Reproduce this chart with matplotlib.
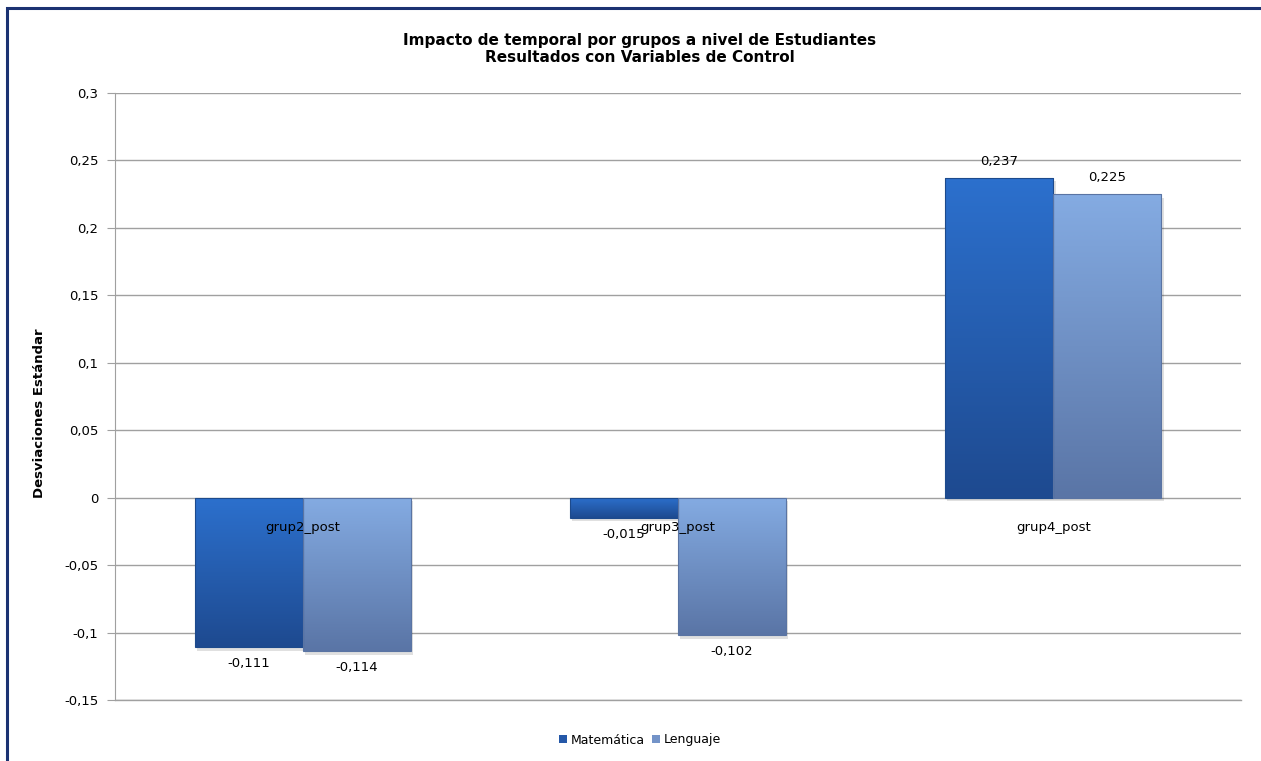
import matplotlib
matplotlib.use("Agg")
import matplotlib.pyplot as plt
import numpy as np
from matplotlib.colors import LinearSegmentedColormap
from matplotlib.patches import Rectangle, Patch
from matplotlib.ticker import FixedLocator, FuncFormatter

categories = ["grup2_post", "grup3_post", "grup4_post"]
matematica = [-0.111, -0.015, 0.237]
lenguaje = [-0.114, -0.102, 0.225]
series_names = ["Matemática", "Lenguaje"]
yticks = [-0.15, -0.1, -0.05, 0, 0.05, 0.1, 0.15, 0.2, 0.25, 0.3]

plt.rcParams['font.family'] = ['DejaVu Sans']

W, H = 1261, 761
fig = plt.figure(figsize=(W / 100, H / 100), dpi=100)
ax = fig.add_axes([115 / W, 1 - 700 / H, 1126 / W, 607 / H])

# frame around the chart
fig.patches.append(Rectangle((7 / W, -0.05), 1.1, 1 - 8 / H + 0.05, transform=fig.transFigure,
                             fill=False, edgecolor="#1b3272", linewidth=2.2, zorder=10))

x = np.arange(len(categories))
bw = 0.288
cols = [("#2c70cd", "#1e4a90"), ("#84abe2", "#5a75a6")]
edge = ["#1d4a8c", "#5a74a3"]
legcols = ["#2558a8", "#7393c8"]

for i, (vals, name) in enumerate(zip([matematica, lenguaje], series_names)):
    offs = (i - 0.5) * bw
    bars = ax.bar(x + offs, vals, bw, color=cols[i][1], edgecolor="none", label=name, zorder=3)
    cmap = LinearSegmentedColormap.from_list("g%d" % i, [cols[i][1], cols[i][0]])
    for b, v in zip(bars, vals):
        x0 = b.get_x()
        x1 = x0 + b.get_width()
        y0, y1 = min(0, v), max(0, v)
        ax.add_patch(Rectangle((x0 + 0.006, y0 - 0.0025), x1 - x0, y1 - y0, facecolor="#000000",
                               alpha=0.12, edgecolor="none", zorder=2))
        grad = np.linspace(0, 1, 100).reshape(-1, 1)
        im = ax.imshow(grad, extent=[x0, x1, y0, y1], origin="lower", aspect="auto", cmap=cmap,
                       zorder=3.5, interpolation="bilinear")
        im.set_clip_path(b)
        ax.add_patch(Rectangle((x0, y0), x1 - x0, y1 - y0, fill=False, edgecolor=edge[i],
                               linewidth=0.8, zorder=4))
        lab = ("%.3f" % v).replace(".", ",")
        if v >= 0:
            ax.annotate(lab, (x0 + (x1 - x0) / 2, v), xytext=(0, 7), textcoords="offset points",
                        ha="center", va="bottom", fontsize=9.5, color="#000000", zorder=6)
        else:
            ax.annotate(lab, (x0 + (x1 - x0) / 2, v), xytext=(0, -7), textcoords="offset points",
                        ha="center", va="top", fontsize=9.5, color="#000000", zorder=6)

for xi, c in zip(x, categories):
    ax.annotate(c, (xi, 0), xytext=(0, -21.5), textcoords="offset points", ha="center",
                va="center", fontsize=9.5, color="#000000", zorder=6)

ax.set_xlim(-0.5, len(categories) - 0.5)
ax.set_ylim(-0.15, 0.3)
ax.yaxis.set_major_locator(FixedLocator(yticks))
ax.yaxis.set_major_formatter(FuncFormatter(lambda v, p: ("%g" % round(v, 3)).replace(".", ",")))
ax.set_xticks([])
ax.grid(axis="y", color="#a0a0a0", linewidth=1.0, zorder=0)
ax.axhline(-0.15, color="#a0a0a0", linewidth=1.0, zorder=0, clip_on=False)
for s in ["top", "right", "bottom"]:
    ax.spines[s].set_visible(False)
ax.spines["left"].set_color("#a0a0a0")
ax.tick_params(axis="y", length=6, color="#a0a0a0", labelsize=9.5, pad=6)

fig.text(40 / W, 1 - 413 / H, "Desviaciones Estándar", rotation=90, ha="center", va="center",
         fontsize=9.5, fontweight="bold")
fig.text(640 / W, 1 - 49 / H, "Impacto de temporal por grupos a nivel de Estudiantes\nResultados con Variables de Control",
         ha="center", va="center", fontsize=11, fontweight="bold", linespacing=1.15)

handles = [Patch(facecolor=legcols[i], edgecolor="none", label=series_names[i]) for i in range(2)]
fig.legend(handles=handles, loc="center", bbox_to_anchor=(640 / W, 1 - 740 / H), ncol=2, frameon=False,
           fontsize=9, handlelength=0.6, handleheight=0.6, handletextpad=0.3, columnspacing=0.6)

fig.savefig("out.png", dpi=100)
